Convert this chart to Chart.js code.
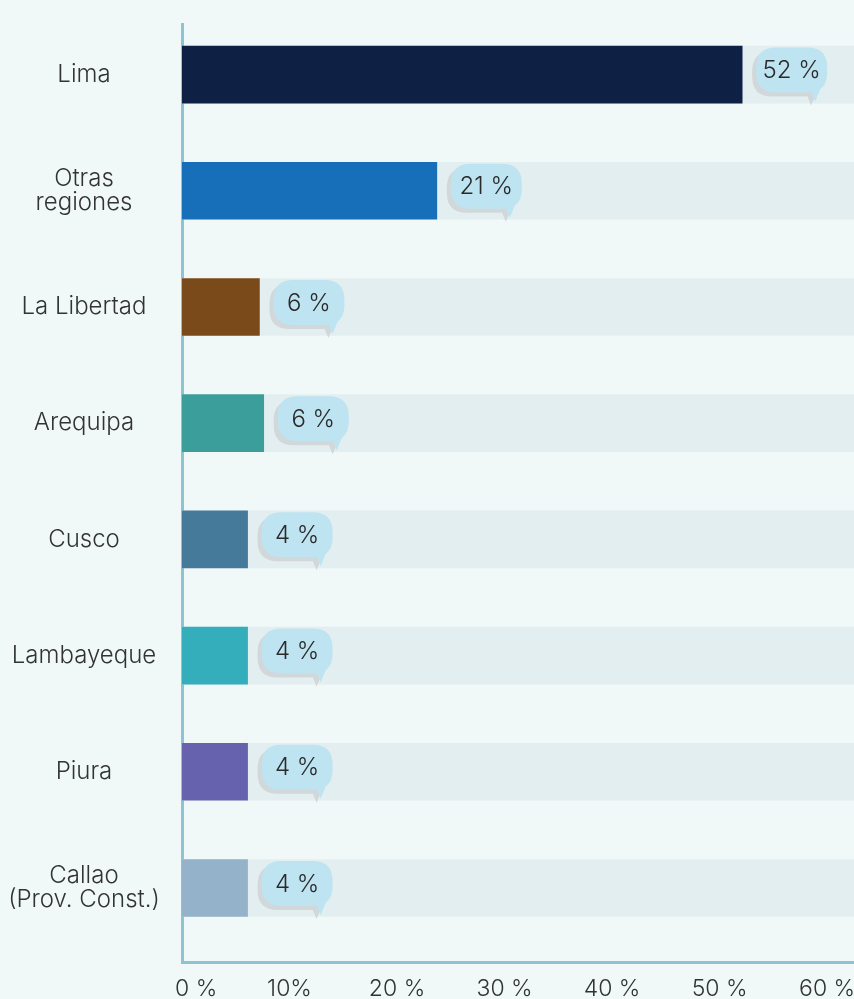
<!DOCTYPE html>
<html>
<head>
<meta charset="utf-8">
<script src="https://cdn.jsdelivr.net/npm/chart.js@4"></script>
<style>
    html, body { margin: 0; padding: 0; background: #f0f9f8; overflow: hidden; }
    #wrap { width: 854px; height: 999px; }
</style>
</head>
<body>
<div id="wrap"><canvas id="grafico"></canvas></div>
<script>
// datos
const regiones = [["Lima"], ["Otras", "regiones"], ["La Libertad"], ["Arequipa"], ["Cusco"], ["Lambayeque"], ["Piura"], ["Callao", "(Prov. Const.)"]];
const largoBarra = [52.1, 23.7, 7.2, 7.6, 6.1, 6.1, 6.1, 6.1];
const etiquetas = ["52 %", "21 %", "6 %", "6 %", "4 %", "4 %", "4 %", "4 %"];
const coloresBarra = ["#0f2045", "#176fba", "#7a4a1a", "#3b9e9a", "#457a9a", "#33aeba", "#6762ae", "#94b3cb"];
const ticksX = [0, 10, 20, 30, 40, 50, 60];
const ticksTexto = ["0 %", "10%", "20 %", "30 %", "40 %", "50 %", "60 %"];

const FUENTE = "Inter, 'Noto Sans', sans-serif";
const X_MAX = 62.5;
const colorEje = "#8ec3d2";
const TAM_CAT = 24;

// ancho de la etiqueta mas larga para centrar los nombres
const medidor = document.createElement("canvas").getContext("2d");
medidor.font = "300 " + TAM_CAT + "px " + FUENTE;
let masAncho = 0;
regiones.forEach(r => r.forEach(t => { masAncho = Math.max(masAncho, medidor.measureText(t).width); }));

const puntos = largoBarra.map((v, i) => ({ x: v, y: i }));
const fondo = regiones.map((r, i) => ({ x: X_MAX, y: i }));

function rectRedondo(ctx, x, y, w, h, r) {
    ctx.beginPath();
    ctx.moveTo(x + r, y);
    ctx.lineTo(x + w - r, y);
    ctx.quadraticCurveTo(x + w, y, x + w, y + r);
    ctx.lineTo(x + w, y + h - r);
    ctx.quadraticCurveTo(x + w, y + h, x + w - r, y + h);
    ctx.lineTo(x + r, y + h);
    ctx.quadraticCurveTo(x, y + h, x, y + h - r);
    ctx.lineTo(x, y + r);
    ctx.quadraticCurveTo(x, y, x + r, y);
    ctx.closePath();
}

function globo(ctx, x, y, w, h, color) {
    rectRedondo(ctx, x, y, w, h, 20);
    ctx.fillStyle = color;
    ctx.fill();
    // colita
    ctx.beginPath();
    ctx.moveTo(x + w - 17, y + h - 3);
    ctx.lineTo(x + w - 7, y + h - 3);
    ctx.lineTo(x + w - 12, y + h + 9);
    ctx.closePath();
    ctx.fill();
}

const pluginGlobos = {
    id: "globos",
    afterDatasetsDraw(chart) {
        const ctx = chart.ctx;
        const meta = chart.getDatasetMeta(1);
        ctx.save();
        meta.data.forEach((bar, i) => {
            const w = 71, h = 45;
            const gx = bar.x + 14;
            const gy = bar.y - 27;
            globo(ctx, gx - 4, gy + 4, w, h, "#d2d7d9");
            globo(ctx, gx, gy, w, h, "#bee3f1");
            ctx.fillStyle = "#2a2a2a";
            ctx.font = "300 24px " + FUENTE;
            ctx.textAlign = "center";
            ctx.textBaseline = "middle";
            ctx.fillText(etiquetas[i], gx + w / 2, gy + h / 2 + 1);
        });
        ctx.restore();
    },
    afterDraw(chart) {
        // etiquetas del eje x
        const ctx = chart.ctx;
        const sx = chart.scales.x;
        ctx.save();
        ctx.fillStyle = "#333";
        ctx.font = "300 23px " + FUENTE;
        ctx.textBaseline = "middle";
        ticksX.forEach((v, i) => {
            const px = sx.getPixelForValue(v);
            if (i === 0) {
                ctx.textAlign = "left";
                ctx.fillText(ticksTexto[i], px - 7, sx.bottom - 10);
            } else {
                ctx.textAlign = "center";
                ctx.fillText(ticksTexto[i], px, sx.bottom - 10);
            }
        });
        ctx.restore();
    }
};

new Chart(document.getElementById("grafico"), {
    type: "bar",
    data: {
        datasets: [
            {
                data: fondo,
                backgroundColor: "#e3eef0",
                barThickness: 57,
                grouped: false,
                order: 2
            },
            {
                data: puntos,
                backgroundColor: coloresBarra,
                barThickness: 57,
                grouped: false,
                order: 1
            }
        ]
    },
    options: {
        indexAxis: "y",
        responsive: true,
        maintainAspectRatio: false,
        animation: false,
        layout: { padding: { top: 24, right: 0, bottom: 0, left: 0 } },
        plugins: {
            legend: { display: false },
            tooltip: { enabled: false }
        },
        scales: {
            x: {
                type: "linear",
                min: 0,
                max: X_MAX,
                grid: { display: false },
                border: { color: colorEje, width: 3 },
                ticks: { display: false },
                afterFit: (s) => { s.height = 37; }
            },
            y: {
                type: "linear",
                reverse: true,
                offset: false,
                min: -0.435,
                max: 7.637,
                grid: { display: false, drawTicks: false },
                border: { color: colorEje, width: 3 },
                afterBuildTicks: (s) => { s.ticks = regiones.map((r, i) => ({ value: i })); },
                ticks: {
                    crossAlign: "center",
                    padding: 98 - masAncho / 2,
                    color: "#333",
                    font: { family: FUENTE, size: TAM_CAT, weight: 300, lineHeight: 1.0 },
                    callback: (v) => regiones[v] || ""
                },
                afterFit: (s) => {
                    s.width = 182;
                    s.paddingTop = 0;
                    s.paddingBottom = 0;
                }
            }
        }
    },
    plugins: [pluginGlobos]
});
</script>
</body>
</html>
